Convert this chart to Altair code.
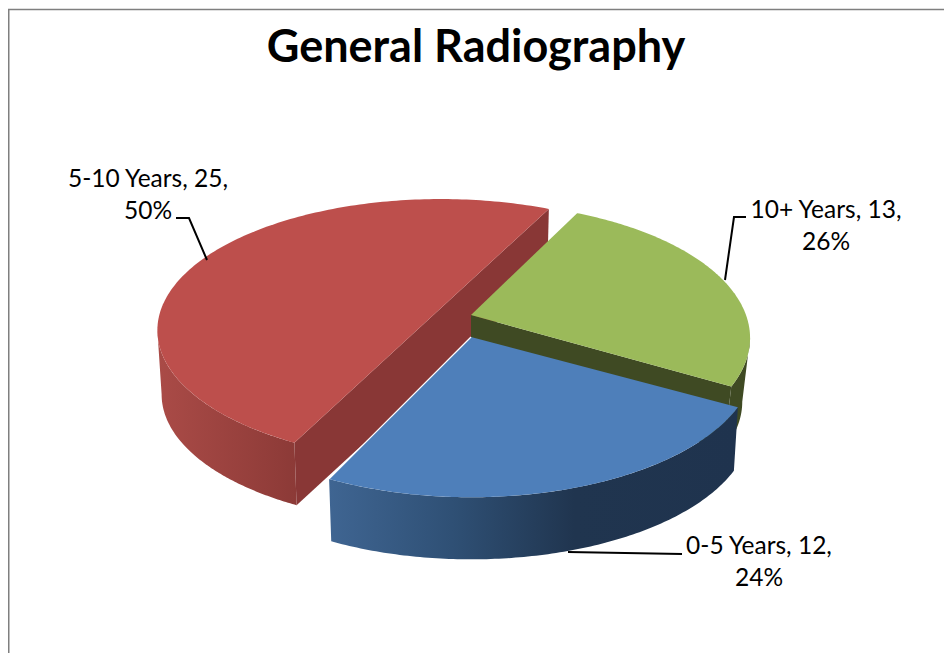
import math
import altair as alt
import pandas as pd

categories = ["0-5 Years", "5-10 Years", "10+ Years"]
values = [12, 25, 13]
percents = ["24%", "50%", "26%"]
title = "General Radiography"

W, H = 936, 645
START = 29.0
K = 0.17
DEPTH = 64.5
total = sum(values)

# slice geometry: centre x, centre y, half width, half height
geom = {
    "0-5 Years": (471, 337, 280, 133),
    "5-10 Years": (441, 308, 279.5, 127.5),
    "10+ Years": (471, 315, 275, 131),
}
shrink = {"0-5 Years": 0.985, "5-10 Years": 0.985, "10+ Years": 0.972}
turn = {"0-5 Years": 0.0, "5-10 Years": 1.0, "10+ Years": 1.0}
top_col = {"0-5 Years": "#4e7fba", "5-10 Years": "#bd4f4c", "10+ Years": "#9bba5a"}
inner_col = {"5-10 Years": "#893736", "10+ Years": "#3f4a23"}
wall_fill = {
    "0-5 Years": [(0, "#3f6592"), (0.3, "#2f5075"), (0.6, "#20354f"), (1, "#1f334e")],
    "5-10 Years": [(0, "#aa4b47"), (1, "#8c3a37")],
    "10+ Years": [(0, "#3f4a23"), (1, "#3f4a23")],
}


def point(cat, deg, low=False):
    cx, cy, a, b = geom[cat]
    u, v = math.cos(math.radians(deg)), math.sin(math.radians(deg))
    w = 1 - K * v
    s = shrink[cat] if low else 1.0
    return cx + s * a * u / w, cy + s * b * v / w + (DEPTH if low else 0)


def apex(cat, low=False):
    cx, cy, _, _ = geom[cat]
    return cx, cy + (DEPTH if low else 0)


ranges = {}
angle = START
for c, v in zip(categories, values):
    ranges[c] = (angle + turn[c], angle + turn[c] + v / total * 360)
    angle += v / total * 360

# visible stretch of each outer wall, in degrees (ends where the edge of the top face turns back)
silhouette = math.degrees(math.asin(K))
wall_span = {
    "0-5 Years": ranges["0-5 Years"],
    "5-10 Years": (ranges["5-10 Years"][0], 180.0 - silhouette),
    "10+ Years": (360.0 + silhouette, ranges["10+ Years"][1]),
}

xs = alt.Scale(domain=[8, 8 + W], range=[0, W], nice=False, zero=False)
ys = alt.Scale(domain=[8, 8 + H], range=[0, H], nice=False, zero=False)
X = alt.X("x:Q", scale=xs, axis=None)
Y = alt.Y("y:Q", scale=ys, axis=None)


def frame(pts):
    return pd.DataFrame([{"x": x, "y": y, "i": i} for i, (x, y) in enumerate(pts)])


def shape(pts, fill):
    pts = list(pts) + [pts[0]]
    return alt.Chart(frame(pts)).mark_line(fill=fill, strokeWidth=0, strokeOpacity=0).encode(x=X, y=Y, order="i:Q")


def path(pts, colour, sw):
    return alt.Chart(frame(pts)).mark_line(color=colour, strokeWidth=sw).encode(x=X, y=Y, order="i:Q")


def gradient(stops):
    return alt.LinearGradient(
        gradient="linear", x1=0, x2=1, y1=0, y2=0,
        stops=[alt.GradientStop(offset=o, color=col) for o, col in stops],
    )


parts = [path([(8.7, 660), (8.7, 9.5), (952, 9.5)], "#7f7f7f", 1.6)]

for c in ["5-10 Years", "10+ Years", "0-5 Years"]:
    a0, a1 = ranges[c]
    if c == "5-10 Years":
        parts.append(shape([point(c, a0), point(c, a1), point(c, a1, True), point(c, a0, True)], inner_col[c]))
    if c == "10+ Years":
        parts.append(shape([apex(c), point(c, a1), point(c, a1, True), apex(c, True)], inner_col[c]))
    lo, hi = wall_span[c]
    angs = [lo + (hi - lo) * j / 120 for j in range(121)]
    upper = [point(c, t) for t in angs]
    lower = [point(c, t, True) for t in reversed(angs)]
    parts.append(shape(upper + lower, gradient(wall_fill[c])))
    arc = [point(c, a0 + (a1 - a0) * j / 160) for j in range(161)]
    if c != "5-10 Years":
        arc = [apex(c)] + arc
    parts.append(shape(arc, top_col[c]))
    if c == "0-5 Years":
        parts.append(path([apex(c), point(c, a1)], "#ffffff", 1.2))

# leader lines
parts += [
    path([(176, 218), (189, 218), (207, 260)], "#000000", 2),
    path([(746, 217), (734, 217), (725, 280)], "#000000", 2),
    path([(568, 552), (682, 554)], "#000000", 2),
]

lab = []
centres = {"0-5 Years": (759, 554), "5-10 Years": (148, 187), "10+ Years": (826, 218)}
for c, v, p in zip(categories, values, percents):
    x, y = centres[c]
    lab.append({"x": x, "y": y, "t": f"{c}, {v},"})
    lab.append({"x": x, "y": y + 32, "t": p})
parts.append(
    alt.Chart(pd.DataFrame(lab)).mark_text(font="Lato", fontSize=24.5, align="center", baseline="alphabetic", color="#000000")
    .encode(x=X, y=Y, text="t:N")
)
parts.append(
    alt.Chart(pd.DataFrame([{"x": 476, "y": 62, "t": title}]))
    .mark_text(font="Lato", fontSize=45, fontWeight="bold", align="center", baseline="alphabetic", color="#000000")
    .encode(x=X, y=Y, text="t:N")
)

chart = alt.layer(*parts).properties(
    width=W, height=H, padding=0, autosize=alt.AutoSizeParams(type="none")
).configure_view(stroke=None)
chart.save("out.html", embed_options={"renderer": "svg", "actions": False})
